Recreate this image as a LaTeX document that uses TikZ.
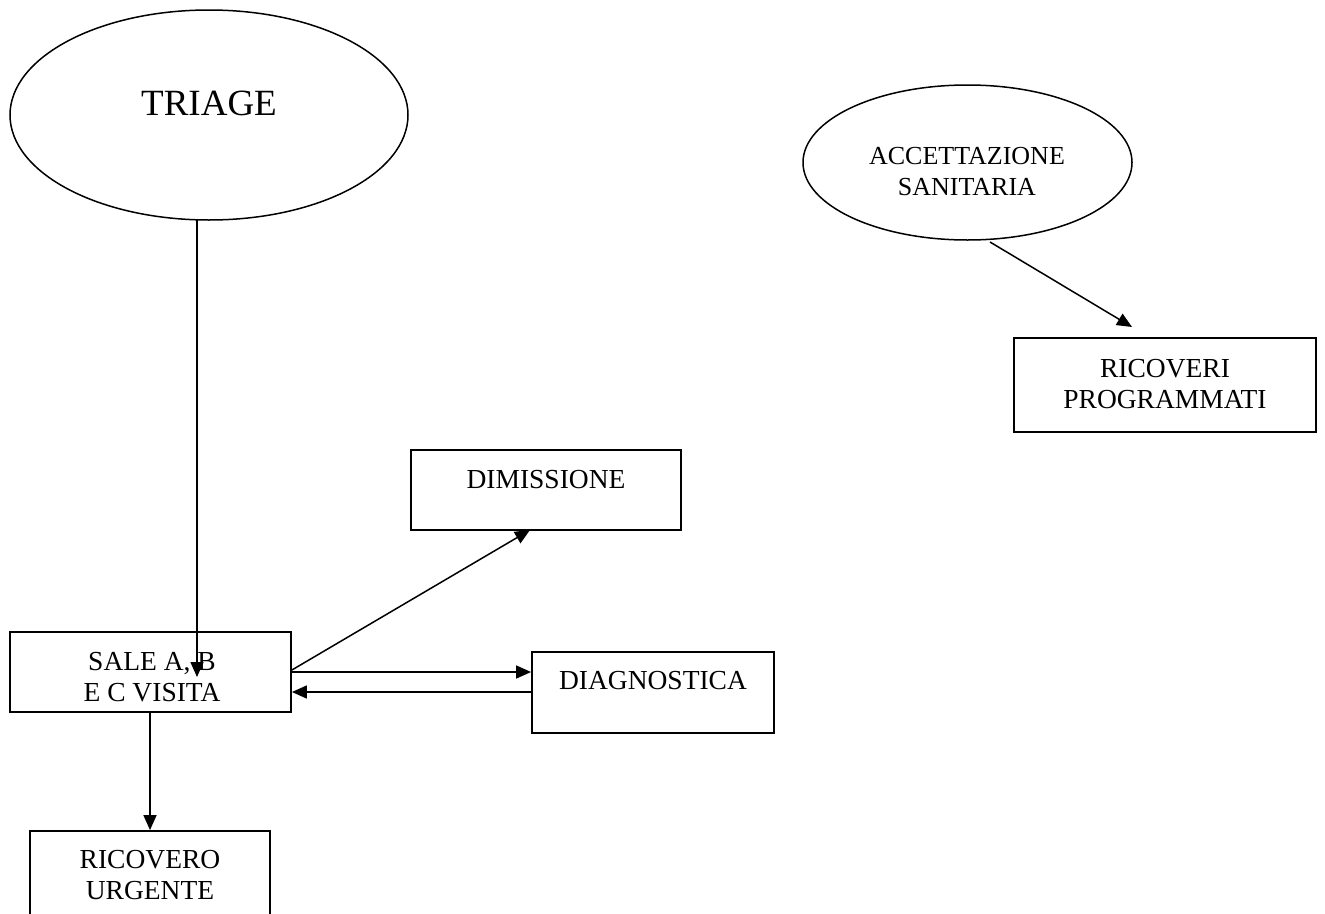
\documentclass[tikz,border=0pt]{standalone}
\usepackage{fontspec}
\setmainfont{Liberation Serif}
\usetikzlibrary{shapes.geometric,arrows.meta}
\begin{document}
\begin{tikzpicture}[x=1pt,y=-1pt,
  boxnode/.style={draw,line width=1.8pt,rectangle,inner sep=0pt},
  ellnode/.style={draw,line width=1.5pt,ellipse,inner sep=0pt},
  txt/.style={font=\fontsize{27.5}{31}\selectfont,align=center,inner sep=0pt},
  conn/.style={line width=1.5pt,-{Triangle[length=15pt,width=13pt]}}]
\useasboundingbox (0,0) rectangle (1325,913);
% ellipses
\node[ellnode,minimum width=398pt,minimum height=210pt] (triage) at (209,115) {};
\node[txt,font=\fontsize{37}{42}\selectfont] at (209,103) {TRIAGE};
\node[ellnode,minimum width=329pt,minimum height=155pt] (acc) at (967.5,162.5) {};
\node[txt,font=\fontsize{26}{31}\selectfont] at (967,172) {ACCETTAZIONE\\SANITARIA};
% boxes
\node[boxnode,minimum width=302pt,minimum height=94pt] (prog) at (1165,385) {};
\node[txt] at (1165,384) {RICOVERI\\PROGRAMMATI};
\node[boxnode,minimum width=270pt,minimum height=80pt] (dim) at (546,490) {};
\node[txt] at (546,480) {DIMISSIONE};
\node[boxnode,minimum width=281pt,minimum height=80pt] (sale) at (150.5,672) {};
\node[txt] at (152,677) {SALE A, B\\E C VISITA};
\node[boxnode,minimum width=242pt,minimum height=81pt] (diag) at (653,692.5) {};
\node[txt] at (653,681) {DIAGNOSTICA};
\node[boxnode,minimum width=240pt,minimum height=84pt] (urg) at (150,873) {};
\node[txt] at (150,875) {RICOVERO\\URGENTE};
% connectors
\coordinate (t1) at (197,220);
\coordinate (t2) at (197,677);
\draw[conn] (t1) -- (t2);
\coordinate (a1) at (990,242);
\coordinate (a2) at (1132,327);
\draw[conn] (a1) -- (a2);
\coordinate (s1) at (sale.east |- 0,670);
\coordinate (d1) at (530,530);
\draw[conn] (s1) -- (d1);
\coordinate (s2) at (sale.east |- 0,672);
\draw[conn] (s2) -- (diag.west |- 0,672);
\draw[conn] (diag.west |- 0,692) -- (sale.east |- 0,692);
\draw[conn] (sale.south -| 150,0) -- (urg.north -| 150,0);
\end{tikzpicture}
\end{document}
